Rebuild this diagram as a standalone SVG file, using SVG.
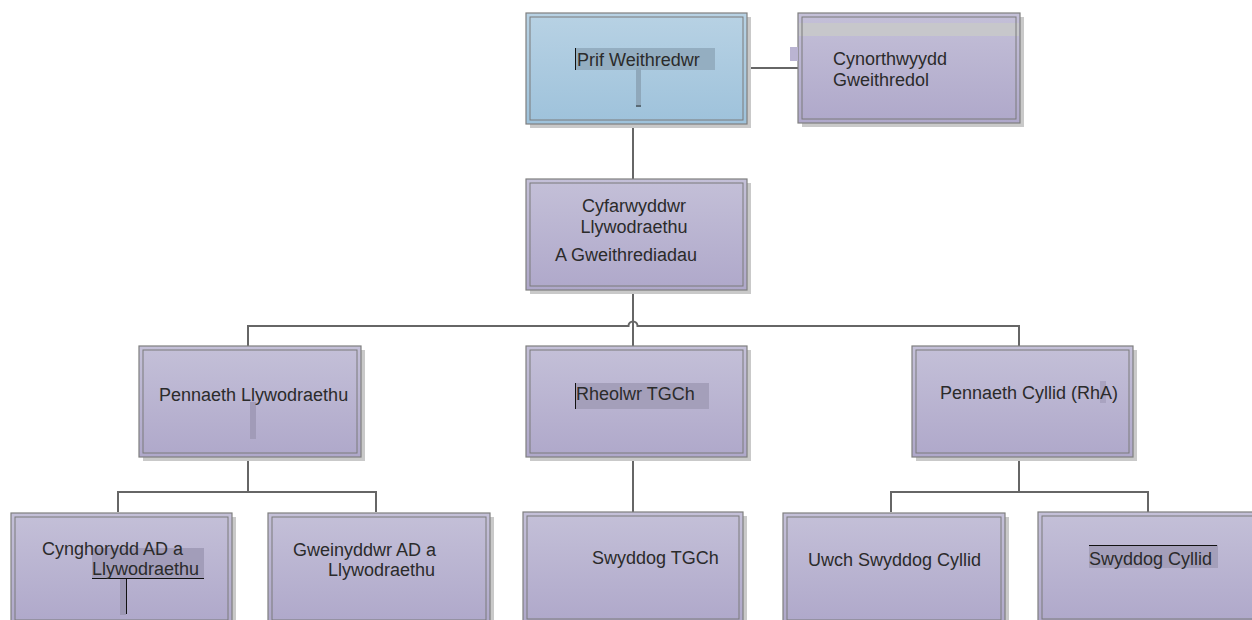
<svg xmlns="http://www.w3.org/2000/svg" width="1252" height="620" viewBox="0 0 1252 620">
<defs>
<linearGradient id="gp" x1="0" y1="0" x2="0" y2="1">
<stop offset="0" stop-color="#c4c0d8"/>
<stop offset="1" stop-color="#afa8ca"/>
</linearGradient>
<linearGradient id="gb" x1="0" y1="0" x2="0" y2="1">
<stop offset="0" stop-color="#b8d2e4"/>
<stop offset="1" stop-color="#9ec2db"/>
</linearGradient>
<style>
.sh{fill:#c9c9c9}
.ob{stroke:#7f7f7f;stroke-width:1.2}
.ib{fill:none;stroke:#7a7a7a;stroke-width:1}
.p{fill:url(#gp)}
.b{fill:url(#gb)}
text{font-family:"Liberation Sans",Arial,sans-serif;font-size:18px;fill:#2b2b2b}
.con{fill:none;stroke:#666;stroke-width:2}
.hl{fill:#a29db9}
.cur{stroke:#111;stroke-width:1}
</style>
</defs>
<rect width="1252" height="620" fill="#fff"/>

<g id="connectors" class="con">
<path d="M747 68H798"/>
<path d="M633 124V179"/>
<path d="M633 290V346"/>
<path d="M248 346V326H628.5a4.5 4.5 0 0 1 9 0H1019V346"/>
<path d="M248 457V492"/>
<path d="M118 512V492H376V512"/>
<path d="M633 457V512"/>
<path d="M1019 457V492"/>
<path d="M891 512V492H1148V512"/>
</g>

<g id="prif">
<rect class="sh" x="530" y="17" width="221" height="111"/>
<rect class="b ob" x="526" y="13" width="221" height="111"/>
<rect class="ib" x="530" y="17" width="213" height="103"/>
<rect x="576" y="48" width="139" height="22" fill="#94aec1"/>
<rect x="636" y="68" width="5" height="37" fill="#8fa8bb"/>
<line class="cur" x1="575.5" y1="48" x2="575.5" y2="70"/>
<line class="cur" x1="636" y1="106" x2="641" y2="106"/>
<text x="577" y="66">Prif Weithredwr</text>
</g>

<g id="cynorthwyydd">
<rect class="sh" x="802" y="17" width="222" height="110"/>
<rect class="p ob" x="798" y="13" width="222" height="110"/>
<rect x="799" y="23" width="220" height="13" fill="#c7c7cb"/>
<rect class="ib" x="802" y="17" width="214" height="102"/>
<rect x="790" y="47" width="8" height="14" fill="#bab4d2"/>
<text x="833" y="65">Cynorthwyydd</text>
<text x="833" y="86">Gweithredol</text>
</g>

<g id="cyfarwyddwr">
<rect class="sh" x="530" y="183" width="221" height="111"/>
<rect class="p ob" x="526" y="179" width="221" height="111"/>
<rect class="ib" x="530" y="183" width="213" height="103"/>
<text x="634" y="212" text-anchor="middle">Cyfarwyddwr</text>
<text x="634" y="233" text-anchor="middle">Llywodraethu</text>
<text x="555" y="261">A Gweithrediadau</text>
</g>

<g id="pennaeth-llywodraethu">
<rect class="sh" x="143" y="350" width="222" height="111"/>
<rect class="p ob" x="139" y="346" width="222" height="111"/>
<rect class="ib" x="143" y="350" width="214" height="103"/>
<rect x="250" y="402" width="6" height="37" fill="#a19bb8"/>
<text x="159" y="401">Pennaeth Llywodraethu</text>
</g>

<g id="rheolwr">
<rect class="sh" x="530" y="350" width="221" height="111"/>
<rect class="p ob" x="526" y="346" width="221" height="111"/>
<rect class="ib" x="530" y="350" width="213" height="103"/>
<rect x="576" y="383" width="133" height="26" fill="#a49fba"/>
<line class="cur" x1="575.5" y1="383" x2="575.5" y2="409"/>
<text x="576" y="400">Rheolwr TGCh</text>
</g>

<g id="pennaeth-cyllid">
<rect class="sh" x="916" y="350" width="221" height="111"/>
<rect class="p ob" x="912" y="346" width="221" height="111"/>
<rect class="ib" x="916" y="350" width="213" height="103"/>
<rect x="1100" y="381" width="6" height="22" fill="#a9a3c0"/>
<text x="940" y="399">Pennaeth Cyllid (RhA)</text>
</g>

<g id="cynghorydd">
<rect class="sh" x="15" y="517" width="221" height="111"/>
<rect class="p ob" x="11" y="513" width="221" height="111"/>
<rect class="ib" x="15" y="517" width="213" height="103"/>
<rect class="hl" x="92" y="548" width="112" height="30"/>
<rect x="120" y="578" width="6" height="37" fill="#9d98b4"/>
<line class="cur" x1="92" y1="578.5" x2="204" y2="578.5"/>
<line class="cur" x1="126.5" y1="578" x2="126.5" y2="614"/>
<text x="42" y="555">Cynghorydd AD a</text>
<text x="92" y="575">Llywodraethu</text>
</g>

<g id="gweinyddwr">
<rect class="sh" x="272" y="517" width="222" height="111"/>
<rect class="p ob" x="268" y="513" width="222" height="111"/>
<rect class="ib" x="272" y="517" width="214" height="103"/>
<text x="293" y="556">Gweinyddwr AD a</text>
<text x="328" y="576">Llywodraethu</text>
</g>

<g id="swyddog-tgch">
<rect class="sh" x="527" y="516" width="220" height="111"/>
<rect class="p ob" x="523" y="512" width="220" height="111"/>
<rect class="ib" x="527" y="516" width="212" height="103"/>
<text x="592" y="564">Swyddog TGCh</text>
</g>

<g id="uwch-swyddog">
<rect class="sh" x="787" y="517" width="222" height="111"/>
<rect class="p ob" x="783" y="513" width="222" height="111"/>
<rect class="ib" x="787" y="517" width="214" height="103"/>
<text x="808" y="566">Uwch Swyddog Cyllid</text>
</g>

<g id="swyddog-cyllid">
<rect class="sh" x="1042" y="516" width="230" height="111"/>
<rect class="p ob" x="1038" y="512" width="230" height="111"/>
<rect class="ib" x="1042" y="516" width="222" height="103"/>
<rect x="1089" y="545" width="129" height="23" fill="#a49fba"/>
<line class="cur" x1="1089" y1="545.5" x2="1217" y2="545.5"/>
<text x="1089" y="565">Swyddog Cyllid</text>
</g>
</svg>
